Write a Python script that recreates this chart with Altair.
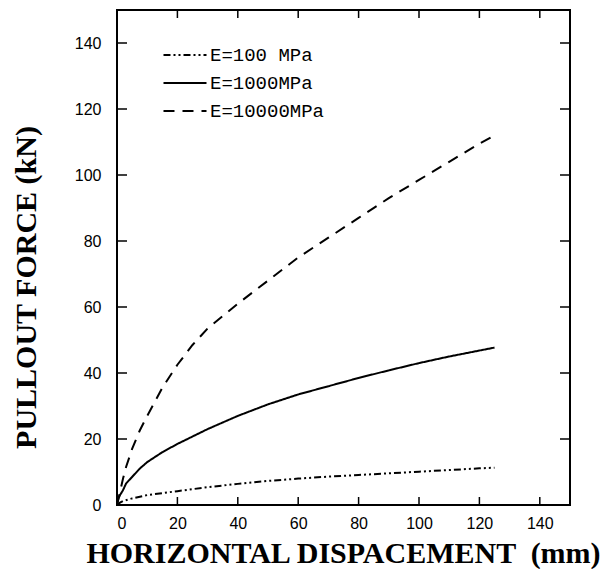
import altair as alt
import pandas as pd

# Series data
x_e100 = [0, 1, 2, 5, 10, 20, 30, 40, 50, 60, 70, 80, 90, 100, 110, 120, 125]
y_e100 = [0, 0.7, 1.2, 2.0, 3.0, 4.2, 5.4, 6.4, 7.3, 8.0, 8.6, 9.1, 9.6, 10.1, 10.6, 11.1, 11.3]

x_e1000 = [0, 0.5, 1, 2, 3, 5, 7.5, 10, 15, 20, 30, 40, 50, 60, 70, 80, 90, 100, 110, 120, 125]
y_e1000 = [0, 2, 3, 4.5, 6.5, 8.5, 11, 13, 16, 18.5, 23, 27, 30.5, 33.5, 36, 38.5, 40.8, 43, 45, 46.8, 47.7]

x_e10000 = [0, 1, 2, 3, 5, 7.5, 10, 15, 20, 25, 30, 40, 50, 60, 70, 80, 90, 100, 110, 120, 125]
y_e10000 = [0, 4, 8, 11.5, 17, 22.5, 27, 35.5, 42.5, 48.5, 53.5, 61, 68, 75, 81, 87, 93, 98.5, 104, 109.5, 112]

series_names = ["E=100 MPa", "E=1000MPa", "E=10000MPa"]
tick_values = [0, 20, 40, 60, 80, 100, 120, 140]

W, H = 453, 495

rows = []
for name, xs, ys in zip(series_names, [x_e100, x_e1000, x_e10000], [y_e100, y_e1000, y_e10000]):
    for i, (a, b) in enumerate(zip(xs, ys)):
        rows.append({"series": name, "x": a, "y": b, "order": i})
df = pd.DataFrame(rows)
ticks = pd.DataFrame({"t": tick_values})

xscale = alt.Scale(domain=[0, 150], nice=False, zero=False)
yscale = alt.Scale(domain=[0, 150], nice=False, zero=False)

xaxis = alt.Axis(values=tick_values, ticks=False, domain=False, grid=False,
                 labelFont="Liberation Sans", labelFontSize=16, labelColor="black",
                 labelPadding=10, title="HORIZONTAL DISPACEMENT \u00a0(mm)",
                 titleFont="Liberation Serif", titleFontSize=30, titleFontWeight="bold",
                 titleColor="black", titleX=226, titleY=57, titleBaseline="alphabetic",
                 titleAlign="center")
yaxis = alt.Axis(values=tick_values, ticks=False, domain=False, grid=False,
                 labelFont="Liberation Sans", labelFontSize=16, labelColor="black",
                 labelPadding=16, title="PULLOUT FORCE (kN)",
                 titleFont="Liberation Serif", titleFontSize=30, titleFontWeight="bold",
                 titleColor="black", titleX=-82, titleY=277, titleAngle=-90,
                 titleBaseline="alphabetic", titleAlign="center")

lines = alt.Chart(df).mark_line(color="black", strokeWidth=2).encode(
    x=alt.X("x:Q", scale=xscale, axis=xaxis),
    y=alt.Y("y:Q", scale=yscale, axis=yaxis),
    order="order:Q",
    strokeDash=alt.StrokeDash(
        "series:N",
        scale=alt.Scale(domain=series_names,
                        range=[[7, 3, 2, 3, 2, 3], [1, 0], [11, 8]]),
        sort=series_names,
        legend=alt.Legend(
            title=None, orient="none", legendX=45, legendY=31,
            symbolType="stroke", symbolSize=1850, symbolStrokeWidth=2,
            symbolStrokeColor="black", clipHeight=28, rowPadding=0,
            labelFont="Liberation Mono", labelFontSize=19, labelColor="black",
            labelOffset=2, padding=0,
        ),
    ),
)

xt_bottom = alt.Chart(ticks).mark_rule(color="black", strokeWidth=1.5).encode(
    x=alt.X("t:Q", scale=xscale), y=alt.value(H), y2=alt.value(H - 8))
xt_top = alt.Chart(ticks).mark_rule(color="black", strokeWidth=1.5).encode(
    x=alt.X("t:Q", scale=xscale), y=alt.value(0), y2=alt.value(8))
yt_left = alt.Chart(ticks).mark_rule(color="black", strokeWidth=1.5).encode(
    y=alt.Y("t:Q", scale=yscale), x=alt.value(0), x2=alt.value(10))
yt_right = alt.Chart(ticks).mark_rule(color="black", strokeWidth=1.5).encode(
    y=alt.Y("t:Q", scale=yscale), x=alt.value(W), x2=alt.value(W - 10))

chart = alt.layer(lines, xt_bottom, xt_top, yt_left, yt_right).properties(
    width=W, height=H,
    autosize=alt.AutoSizeParams(type="none"),
    padding={"left": 109, "top": 2, "right": 38, "bottom": 64},
    background="white",
).configure_view(stroke="black", strokeWidth=2)

chart.save("out.html", embed_options={"renderer": "svg", "actions": False})
